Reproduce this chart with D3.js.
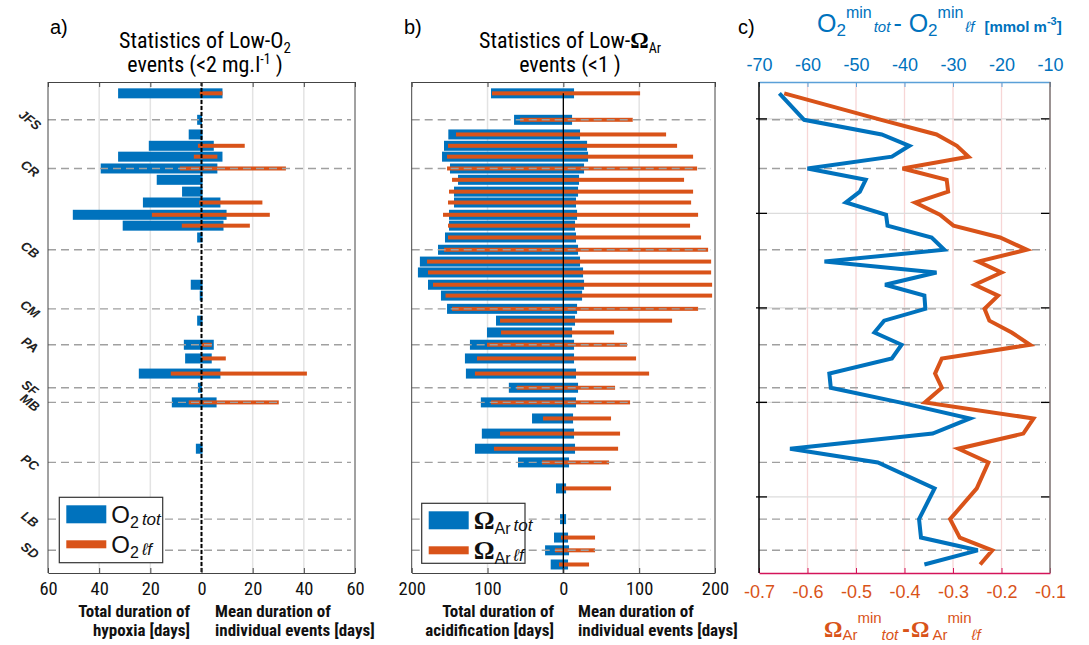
<!DOCTYPE html>
<html><head><meta charset="utf-8">
<script src="https://cdn.jsdelivr.net/npm/d3@7"></script>
<style>
body{margin:0;background:#fff;}
svg{display:block;font-family:"Liberation Sans",Arial,sans-serif;}
.narrow{font-family:"Liberation Sans Narrow","Arial Narrow","Roboto Condensed","DejaVu Sans Condensed","Liberation Sans",sans-serif;}
</style></head>
<body>
<svg id="chart" width="1089" height="645"></svg>
<script>
// ---------------- DATA ----------------
// alongshore position of each model row (km, arbitrary origin in the south)
const rowPos = [1054,998,967,943,920,895,871,846,823,797,774,749,723,698,675,649,626,598,573,548,522,493,461,431,400,366,334,302,273,218,153,114,87,57];
const sites = ["JFS","CR","CB","CM","PA","SF","MB","PC","LB","SD"];
const sitePos = [998,895,723,598,522,431,400,273,153,87];
const yTicks = [1000,800,600,400,200];

// Panel a: low-O2 events (days). null = no event
const o2TotTotal = [32.6,1.7,5.0,20.6,32.6,39.4,17.5,7.6,22.9,50.3,30.8,1.7,null,null,null,4.2,0.7,null,1.7,null,6.9,6.4,24.5,1.4,11.6,null,null,2.2,null,null,null,null,null,null];
const o2TotMean  = [8.2,0.2,0.4,4.8,8.2,6.2,0.4,0.4,7.4,9.8,8.6,0.4,null,null,null,0.4,0.4,null,0.4,null,4.8,4.0,7.4,0.2,5.9,null,null,0.4,null,null,null,null,null,null];
const o2LfTotal  = [0.7,null,null,1.4,3.0,8.5,null,null,0.9,19.4,7.7,null,null,null,null,null,null,null,null,null,0.0,0.0,12.0,null,5.0,null,null,null,null,null,null,null,null,null];
const o2LfMean   = [8.2,null,null,16.9,6.2,33.0,null,null,23.8,26.7,18.9,null,null,null,null,null,null,null,null,null,4.0,9.5,41.2,null,30.2,null,null,null,null,null,null,null,null,null];

// Panel b: low-Omega_Ar events (days)
const omTotTotal = [95.4,65,151.7,157.4,160,149.5,138.9,144.2,144.2,150.8,150.8,156.1,165.3,189.2,191.8,178.5,161.4,153.4,88.8,100.7,123.2,129.8,128.5,71.9,108.8,41.3,107.5,116.6,59.8,9.7,4.4,12.3,24.1,16.7];
const omTotMean  = [14.1,11.5,22,31.3,32.6,27.3,20.7,19.4,16.7,18.1,15.4,16.7,19.4,22,26,27.3,24.7,18.1,15.4,11.5,14.1,14.1,16.7,19.4,16.7,12.8,14.1,15.4,7.5,3.6,3.6,6.2,7.5,6.2];
const omLfTotal  = [94.1,57.1,141.6,152.1,153.4,153.4,146.8,150.8,152.1,158.7,152.1,152.1,157.4,179.8,178.5,171.9,155.4,146.8,83.5,82.2,100.7,113.9,116.6,61.3,95.4,26.8,83.5,91.5,28.1,1.8,null,3.1,11.0,5.7];
const omLfMean   = [101.2,91.5,135.5,150,171.1,176.4,159.2,171.1,168.5,177.7,167.1,181.6,190.9,194.9,194.9,196.2,196.2,177.7,143.4,66.9,84.0,95.9,113.1,68.2,88.0,62.9,74.8,72.2,60.3,62.9,null,41.8,41.8,33.9];

// Panel c: minimum differences tot - lf
const o2MinDiff = [-65.8,-60.7,-44.7,-39.0,-42.6,-60.0,-48.0,-49.2,-52.1,-43.8,-43.5,-34.4,-31.8,-56.5,-33.4,-44.0,-35.9,-35.7,-44.2,-46.2,-40.6,-42.6,-55.5,-55.2,-41.0,-26.5,-34.2,-63.6,-45.5,-33.8,-37.0,-36.6,-24.9,-35.9];
const omMinDiff = [-0.648,-0.448,-0.334,-0.292,-0.268,-0.404,-0.313,-0.310,-0.378,-0.327,-0.299,-0.203,-0.148,-0.248,-0.200,-0.255,-0.207,-0.235,-0.225,-0.179,-0.141,-0.323,-0.337,-0.323,-0.358,-0.134,-0.155,-0.289,-0.227,-0.251,-0.306,-0.286,-0.219,-0.244];

const ticksA = [-60,-40,-20,0,20,40,60];
const ticksB = [-200,-100,0,100,200];
const ticksCbottom = [-0.7,-0.6,-0.5,-0.4,-0.3,-0.2,-0.1];
const ticksCtop = [-70,-60,-50,-40,-30,-20,-10];

// ---------------- STYLE ----------------
const BLUE = "#0072BD", ORANGE = "#D95319";
const svg = d3.select("#chart");
const TOP = 82, BOT = 573;
const y = d3.scaleLinear().domain([1078,39]).range([TOP,BOT]);
const xA = d3.scaleLinear().domain([-60,60]).range([48,355]);
const xB = d3.scaleLinear().domain([-200,200]).range([411.7,715]);
const xCb = d3.scaleLinear().domain([-0.7,-0.1]).range([759,1050]);
const xCt = d3.scaleLinear().domain([-70,-10]).range([759,1050]);

function barPanel(x, ticks, tot, totMean, lf, lfMean, zeroStyle){
  const g = svg.append("g");
  g.selectAll(".vg").data(ticks.slice(1,-1)).join("line")
    .attr("x1",d=>x(d)).attr("x2",d=>x(d)).attr("y1",TOP).attr("y2",BOT)
    .attr("stroke","#e3e3e3").attr("stroke-width",1.5);
  const rows = rowPos.map((p,i)=>({p,i}));
  g.selectAll(".bt").data(rows.filter(r=>tot[r.i]!==null)).join("rect")
    .attr("x",r=>x(-tot[r.i])).attr("width",r=>x(totMean[r.i])-x(-tot[r.i]))
    .attr("y",r=>y(r.p)-5).attr("height",10).attr("fill",BLUE);
  g.selectAll(".bl").data(rows.filter(r=>lf[r.i]!==null)).join("rect")
    .attr("x",r=>x(-lf[r.i])).attr("width",r=>x(lfMean[r.i])-x(-lf[r.i]))
    .attr("y",r=>y(r.p)-2).attr("height",4).attr("fill",ORANGE);
  g.selectAll(".sl").data(sitePos).join("line")
    .attr("x1",x.range()[0]).attr("x2",x.range()[1]-4).attr("y1",d=>y(d)).attr("y2",d=>y(d))
    .attr("stroke","#a0a0a0").attr("stroke-width",1.4).attr("stroke-dasharray","8,5");
  if(zeroStyle==="dash"){
    g.append("line").attr("x1",x(0)).attr("x2",x(0)).attr("y1",TOP).attr("y2",BOT)
      .attr("stroke","#000").attr("stroke-width",2).attr("stroke-dasharray","4,2");
  } else {
    g.append("line").attr("x1",x(0)).attr("x2",x(0)).attr("y1",y(rowPos[0])).attr("y2",BOT)
      .attr("stroke","#000").attr("stroke-width",1.3);
  }
  const ax = d3.axisBottom(x).tickValues(ticks).tickFormat(d=>Math.abs(d)).tickSizeInner(-5).tickSizeOuter(0).tickPadding(9);
  const gb = g.append("g").attr("transform",`translate(0,${BOT})`).call(ax);
  gb.select(".domain").attr("stroke","#444");
  gb.selectAll(".tick line").attr("stroke","#444");
  gb.selectAll("text").attr("class","narrow").attr("font-size",18.5).attr("fill","#111");
  const at = d3.axisTop(x).tickValues(ticks).tickFormat("").tickSizeInner(-5).tickSizeOuter(0);
  const gt = g.append("g").attr("transform",`translate(0,${TOP})`).call(at);
  gt.select(".domain").attr("stroke","#444");
  gt.selectAll(".tick line").attr("stroke","#444");
  g.append("line").attr("x1",x.range()[0]).attr("x2",x.range()[0]).attr("y1",TOP).attr("y2",BOT).attr("stroke","#444");
  g.append("line").attr("x1",x.range()[1]).attr("x2",x.range()[1]).attr("y1",TOP).attr("y2",BOT).attr("stroke","#444");
  return g;
}

barPanel(xA, ticksA, o2TotTotal, o2TotMean, o2LfTotal, o2LfMean, "dash");
barPanel(xB, ticksB, omTotTotal, omTotMean, omLfTotal, omLfMean, "solid");

// site labels (panel a)
svg.append("g").selectAll("text").data(sites).join("text")
  .attr("transform",(d,i)=>`translate(30,${y(sitePos[i])}) rotate(38)`)
  .attr("text-anchor","middle").attr("dy","0.35em")
  .attr("font-size",13).attr("font-weight","bold").attr("font-style","italic").attr("fill","#222")
  .text(d=>d);

// ---------------- panel c ----------------
const gc = svg.append("g");
gc.selectAll(".vg").data(ticksCbottom.slice(1,-1)).join("line")
  .attr("x1",d=>xCb(d)).attr("x2",d=>xCb(d)).attr("y1",TOP).attr("y2",BOT)
  .attr("stroke","#f7d6d6").attr("stroke-width",1.3);
gc.selectAll(".hg").data(yTicks).join("line")
  .attr("x1",759).attr("x2",1050).attr("y1",d=>y(d)).attr("y2",d=>y(d))
  .attr("stroke","#dcdcdc").attr("stroke-width",1.3);
gc.selectAll(".sl").data(sitePos).join("line")
  .attr("x1",759).attr("x2",1046).attr("y1",d=>y(d)).attr("y2",d=>y(d))
  .attr("stroke","#a0a0a0").attr("stroke-width",1.4).attr("stroke-dasharray","8,5");
gc.selectAll(".ytl").data(yTicks).join("line")
  .attr("x1",756).attr("x2",767).attr("y1",d=>y(d)).attr("y2",d=>y(d)).attr("stroke","#000").attr("stroke-width",1.3);
gc.selectAll(".ytr").data(yTicks).join("line")
  .attr("x1",1041).attr("x2",1050).attr("y1",d=>y(d)).attr("y2",d=>y(d)).attr("stroke","#000").attr("stroke-width",1.3);

const rowsC = rowPos.map((p,i)=>i);
gc.append("path").datum(rowsC)
  .attr("d",d3.line().x(i=>xCb(omMinDiff[i])).y(i=>y(rowPos[i])))
  .attr("fill","none").attr("stroke",ORANGE).attr("stroke-width",4).attr("stroke-linejoin","miter");
gc.append("path").datum(rowsC)
  .attr("d",d3.line().x(i=>xCt(o2MinDiff[i])).y(i=>y(rowPos[i])))
  .attr("fill","none").attr("stroke",BLUE).attr("stroke-width",4).attr("stroke-linejoin","miter");

const acb = d3.axisBottom(xCb).tickValues(ticksCbottom).tickFormat(d3.format(".1f")).tickSizeInner(-5).tickSizeOuter(0).tickPadding(12);
const gcb = gc.append("g").attr("transform",`translate(0,${BOT})`).call(acb);
gcb.select(".domain").attr("stroke","#d4145a").attr("stroke-width",1.3);
gcb.selectAll(".tick line").attr("stroke","#d4145a");
gcb.selectAll("text").attr("font-size",18).attr("fill",ORANGE).text(d=>d3.format(".1f")(d).replace("−","-"));
const act = d3.axisTop(xCt).tickValues(ticksCtop).tickSizeInner(-5).tickSizeOuter(0).tickPadding(11);
const gct = gc.append("g").attr("transform",`translate(0,${TOP})`).call(act);
gct.select(".domain").attr("stroke","#5aa0d8").attr("stroke-width",1.3);
gct.selectAll(".tick line").attr("stroke","#5aa0d8");
gct.selectAll("text").attr("font-size",18).attr("fill",BLUE).text(d=>String(d));
gc.append("line").attr("x1",759).attr("x2",759).attr("y1",TOP).attr("y2",BOT).attr("stroke","#000").attr("stroke-width",1.5);
gc.append("line").attr("x1",1050).attr("x2",1050).attr("y1",TOP).attr("y2",BOT).attr("stroke","#7a6e6e").attr("stroke-width",1.5);

// ---------------- text ----------------
function txt(x,yy,opts){ const t=svg.append("text").attr("x",x).attr("y",yy); for(const k in opts) t.attr(k,opts[k]); return t; }
txt(50,34,{"font-size":20}).text("a)");
txt(404,34,{"font-size":20}).text("b)");
txt(738,34,{"font-size":20}).text("c)");

let t = txt(205,48,{"font-size":22,"text-anchor":"middle","class":"narrow"});
t.append("tspan").text("Statistics of Low-O");
t.append("tspan").attr("font-size",15).attr("dy",5).text("2");
t = txt(205,72,{"font-size":22,"text-anchor":"middle","class":"narrow"});
t.append("tspan").text("events (<2 mg.l");
t.append("tspan").attr("font-size",14).attr("dy",-8).text("-1");
t.append("tspan").attr("dy",8).text(" )");

t = txt(570,48,{"font-size":22,"text-anchor":"middle","class":"narrow"});
t.append("tspan").text("Statistics of Low-");
t.append("tspan").attr("font-family","Liberation Serif, serif").attr("font-weight","bold").attr("font-size",23).text("Ω");
t.append("tspan").attr("font-size",14).attr("dy",5).text("Ar");
txt(570,72,{"font-size":22,"text-anchor":"middle","class":"narrow"}).text("events (<1 )");

function lbl(x,yy,anchor,s){ txt(x,yy,{"font-size":17,"font-weight":"bold","text-anchor":anchor,"class":"narrow","fill":"#111"}).text(s); }
lbl(190,617,"end","Total duration of");
lbl(190,636,"end","hypoxia [days]");
lbl(215,617,"start","Mean duration of");
lbl(215,636,"start","individual events [days]");
lbl(554,617,"end","Total duration of");
lbl(554,636,"end","acidification [days]");
lbl(578,617,"start","Mean duration of");
lbl(578,636,"start","individual events [days]");

function legend(x0,y0,w,h,sym){
  const g = svg.append("g");
  g.append("rect").attr("x",x0).attr("y",y0).attr("width",w).attr("height",h).attr("fill","#fff").attr("stroke","#333").attr("stroke-width",1.2);
  g.append("rect").attr("x",x0+7).attr("y",y0+8).attr("width",40).attr("height",18).attr("fill",BLUE);
  g.append("rect").attr("x",x0+7).attr("y",y0+43).attr("width",40).attr("height",8).attr("fill",ORANGE);
  [["tot",y0+26],["ℓf",y0+56]].forEach(([s,yy])=>{
    const tt = g.append("text").attr("x",x0+52).attr("y",yy).attr("font-size",24).attr("fill","#111");
    if(sym==="O"){ tt.append("tspan").text("O"); tt.append("tspan").attr("font-size",16).attr("dy",5).text("2"); }
    else { tt.append("tspan").attr("font-family","Liberation Serif, serif").attr("font-weight","bold").attr("font-size",26).text("Ω");
           tt.append("tspan").attr("font-size",16).attr("dy",5).text("Ar"); }
    tt.append("tspan").attr("font-size",17).attr("font-style","italic").attr("dx",3).attr("dy",-3).text(s);
  });
}
legend(59.3,497.3,103.4,65.4,"O");
legend(421.7,503.3,103.3,60,"Om");

// title c
t = txt(817,32,{"font-size":25,"fill":BLUE});
t.append("tspan").text("O");
t.append("tspan").attr("font-size",17).attr("dy",4).text("2");
t.append("tspan").attr("font-size",16).attr("dy",-18).text("min");
t.append("tspan").attr("font-size",15).attr("font-style","italic").attr("dy",14).attr("dx",2).text("tot");
t.append("tspan").attr("font-size",25).attr("dy",0).attr("dx",3).text("- O");
t.append("tspan").attr("font-size",17).attr("dy",4).text("2");
t.append("tspan").attr("font-size",16).attr("dy",-18).text("min");
t.append("tspan").attr("font-size",15).attr("font-style","italic").attr("dy",14).attr("dx",2).text("ℓf");
t.append("tspan").attr("font-size",15).attr("font-weight","bold").attr("dx",10).text("[mmol m");
t.append("tspan").attr("font-size",11).attr("font-weight","bold").attr("dy",-7).text("-3");
t.append("tspan").attr("font-size",15).attr("font-weight","bold").attr("dy",7).text("]");

// bottom label c
t = txt(824,637,{"font-size":23,"fill":ORANGE});
t.append("tspan").attr("font-family","Liberation Serif, serif").attr("font-weight","bold").text("Ω");
t.append("tspan").attr("font-size",15).attr("dy",3).text("Ar");
t.append("tspan").attr("font-size",15).attr("dy",-17).text("min");
t.append("tspan").attr("font-size",15).attr("font-style","italic").attr("dy",17).text("tot");
t.append("tspan").attr("font-size",23).attr("dx",4).attr("dy",-3).attr("font-weight","bold").text("-");
t.append("tspan").attr("font-family","Liberation Serif, serif").attr("font-weight","bold").attr("dx",1).text("Ω");
t.append("tspan").attr("font-size",15).attr("dx",3).attr("dy",3).text("Ar");
t.append("tspan").attr("font-size",15).attr("dy",-17).text("min");
t.append("tspan").attr("font-size",15).attr("font-style","italic").attr("dy",17).text("ℓf");
</script>
</body></html>
